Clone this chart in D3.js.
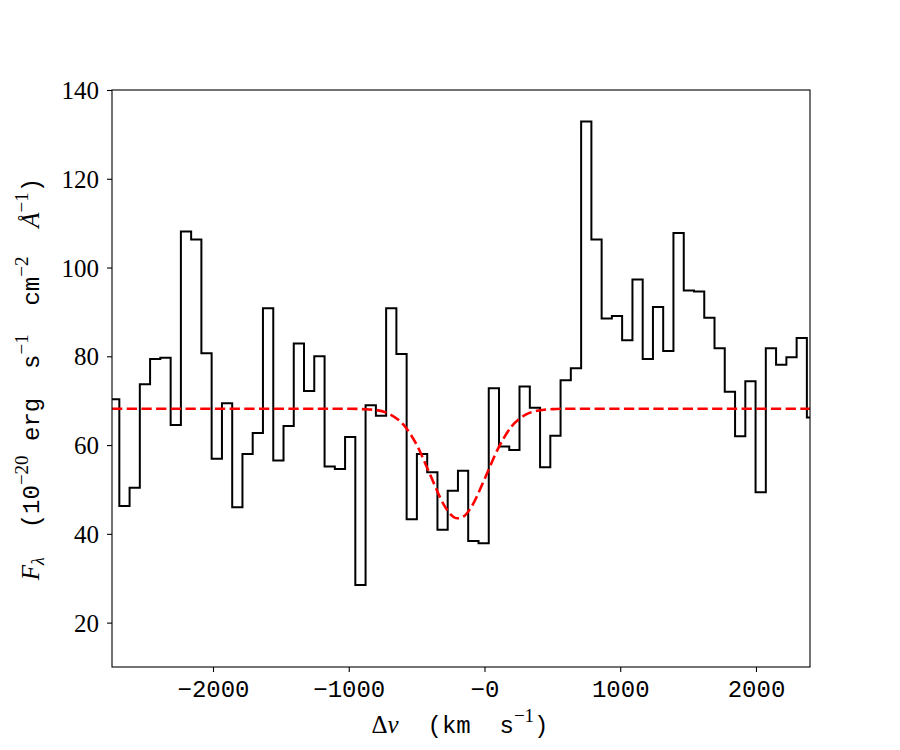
<!DOCTYPE html>
<html>
<head>
<meta charset="utf-8">
<script src="https://cdn.jsdelivr.net/npm/d3@7"></script>
<style>
  html, body { margin: 0; padding: 0; background: #fff; }
  svg { display: block; }
</style>
</head>
<body>
<div id="chart"></div>
<script>
// ---- Data ----
// bin centres (km/s)
const velocity = [-2728, -2652, -2577, -2501, -2426, -2350, -2274, -2199, -2123, -2048,
  -1972, -1896, -1821, -1745, -1670, -1594, -1518, -1443, -1367, -1292,
  -1216, -1140, -1065, -989, -914, -838, -762, -687, -611, -536,
  -460, -384, -309, -233, -158, -82, -6, 69, 145, 220,
  296, 372, 447, 523, 598, 674, 750, 825, 901, 976,
  1052, 1128, 1203, 1279, 1354, 1430, 1506, 1581, 1657, 1732,
  1808, 1884, 1959, 2035, 2110, 2186, 2262, 2337, 2413];
// flux (1e-20 erg/s/cm2/A)
const flux = [70.3, 46.3, 50.4, 73.7, 79.4, 79.7, 64.5, 108.1, 106.3, 80.7,
  56.9, 69.4, 46.0, 58.0, 62.7, 90.8, 56.5, 64.3, 82.9, 72.2,
  80.0, 55.2, 54.6, 61.8, 28.5, 69.0, 66.6, 90.8, 80.5, 43.3,
  58.0, 53.9, 40.9, 49.7, 54.2, 38.4, 37.9, 72.8, 59.7, 58.9,
  73.2, 68.4, 55.0, 62.1, 74.6, 77.3, 132.9, 106.3, 88.5, 89.1,
  83.6, 97.3, 79.4, 91.1, 81.2, 107.8, 94.8, 94.6, 88.7, 81.8,
  72.0, 62.0, 74.4, 49.4, 81.8, 78.1, 79.8, 84.1, 66.2];
// red dashed model curve
const fitV = [-2744, -1000, -900, -800, -700, -600, -500, -400, -300, -250, -200, -150, -100, 0, 100, 200, 300, 400, 500, 600, 2398];
const fitF = [68.2, 68.2, 68.1, 67.9, 67.0, 64.7, 60.1, 53.3, 46.6, 44.4, 43.5, 44.0, 45.9, 52.3, 59.2, 64.2, 66.8, 67.8, 68.1, 68.2, 68.2];
// axes
const xDomain = [-2744, 2398];
const yDomain = [10, 140];
const xTickValues = [-2000, -1000, 0, 1000, 2000];
const xTickLabels = ["\u22122000", "\u22121000", "\u22120", "1000", "2000"];
const yTickValues = [20, 40, 60, 80, 100, 120, 140];
const yTickLabels = ["20", "40", "60", "80", "100", "120", "140"];

// ---- Layout ----
const W = 900, H = 750;
const L = 112, R = 810, T = 90, B = 667;
const serif = "'Liberation Serif', 'DejaVu Serif', serif";
const mono = "'Liberation Mono', 'DejaVu Sans Mono', monospace";

const svg = d3.select("#chart").append("svg")
  .attr("width", W).attr("height", H)
  .style("background", "#fff");

const x = d3.scaleLinear().domain(xDomain).range([L, R]);
const y = d3.scaleLinear().domain(yDomain).range([B, T]);

svg.append("defs").append("clipPath").attr("id", "clip")
  .append("rect").attr("x", L).attr("y", T).attr("width", R - L).attr("height", B - T);

// Step histogram points from bin edges
const edges = [xDomain[0]];
for (let i = 0; i < velocity.length - 1; i++) edges.push((velocity[i] + velocity[i + 1]) / 2);
edges.push(xDomain[1]);
const stepPts = [];
flux.forEach((f, i) => { stepPts.push([edges[i], f]); stepPts.push([edges[i + 1], f]); });

const plot = svg.append("g").attr("clip-path", "url(#clip)");
plot.append("path")
  .attr("d", d3.line().x(d => x(d[0])).y(d => y(d[1]))(stepPts))
  .attr("fill", "none").attr("stroke", "#000").attr("stroke-width", 2)
  .attr("stroke-linejoin", "miter").attr("stroke-linecap", "butt");

plot.append("path")
  .attr("d", d3.line().x((d, i) => x(fitV[i])).y(d => y(d)).curve(d3.curveMonotoneX)(fitF))
  .attr("fill", "none").attr("stroke", "#ff0000").attr("stroke-width", 2.6)
  .attr("stroke-dasharray", "10.3,4.4");

// Axes
const xAxis = d3.axisBottom(x).tickValues(xTickValues)
  .tickFormat((d, i) => xTickLabels[i]).tickSize(5).tickPadding(6);
const gx = svg.append("g").attr("transform", `translate(0,${B})`).call(xAxis);
gx.select(".domain").remove();
gx.selectAll(".tick line").attr("stroke", "#000").attr("stroke-width", 1.1);
gx.selectAll(".tick text").attr("font-family", mono).attr("font-size", 24)
  .attr("fill", "#000").attr("dy", "0.8em");

const yAxis = d3.axisLeft(y).tickValues(yTickValues)
  .tickFormat((d, i) => yTickLabels[i]).tickSize(5).tickPadding(8);
const gy = svg.append("g").attr("transform", `translate(${L},0)`).call(yAxis);
gy.select(".domain").remove();
gy.selectAll(".tick line").attr("stroke", "#000").attr("stroke-width", 1.1);
gy.selectAll(".tick text").attr("font-family", serif).attr("font-size", 25)
  .attr("fill", "#000").attr("dy", "0.34em");

// Frame
svg.append("rect").attr("x", L).attr("y", T).attr("width", R - L).attr("height", B - T)
  .attr("fill", "none").attr("stroke", "#000").attr("stroke-width", 1.1);

// Label helper
function richText(g, parts) {
  const t = g.append("text").attr("fill", "#000").attr("text-anchor", "middle")
    .attr("xml:space", "preserve").style("white-space", "pre");
  let cur = 0;
  parts.forEach(p => {
    const shift = p.shift || 0;
    t.append("tspan").text(p.t)
      .attr("font-family", p.f).attr("font-size", p.s || 24)
      .attr("font-style", p.i ? "italic" : "normal")
      .attr("dy", shift - cur);
    cur = shift;
  });
  return t;
}

// X label
richText(svg.append("g").attr("transform", `translate(460,733)`), [
  {t: "\u0394", f: serif, s: 25},
  {t: "v", f: serif, i: true, s: 25},
  {t: "  (km  s", f: mono},
  {t: "\u22121", f: serif, s: 19, shift: -11},
  {t: ")", f: mono}
]);

// Y label
richText(svg.append("g").attr("transform", `translate(39,379) rotate(-90)`), [
  {t: "F", f: serif, i: true, s: 25},
  {t: "\u03bb", f: serif, i: true, s: 18, shift: 5},
  {t: "  (10", f: mono},
  {t: "\u221220", f: serif, s: 19, shift: -11},
  {t: " erg  s", f: mono},
  {t: "\u22121", f: serif, s: 19, shift: -11},
  {t: "  cm", f: mono},
  {t: "\u22122", f: serif, s: 19, shift: -11},
  {t: "  ", f: mono},
  {t: "\u00c5", f: serif, i: true, s: 25},
  {t: "\u22121", f: serif, s: 19, shift: -11},
  {t: ")", f: mono}
]);
</script>
</body>
</html>
